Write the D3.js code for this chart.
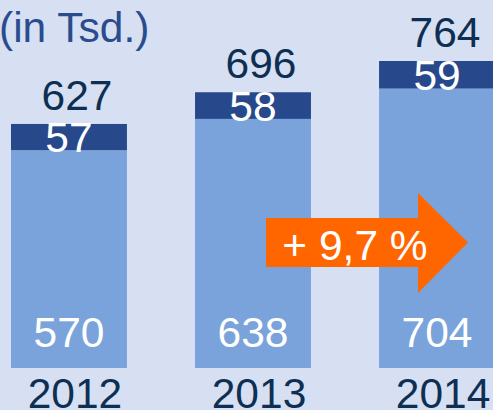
<!DOCTYPE html>
<html>
<head>
<meta charset="UTF-8" />
<title>Chart</title>
<script src="https://cdn.jsdelivr.net/npm/d3@7"></script>
<style>
body{margin:0;padding:0;background:#d6e0f2;overflow:hidden;}
text{font-family:"Liberation Sans",Arial,sans-serif;}
</style>
</head>
<body>
<div id="chart"></div>
<script type="text/javascript">
var w=493,h=410;

var years=['2012','2013','2014'];
var baseValues=[570,638,704];
var topValues=[57,58,59];
var totals=[627,696,764];
var unitLabel='(in Tsd.)';
var growthLabel='+ 9,7 %';

var fs=42.5;

var svg=d3.select('#chart')
          .append('svg')
          .attr('width',w)
          .attr('height',h);

svg.append('rect')
   .attr('width',w)
   .attr('height',h)
   .attr('fill','#d6e0f2');

// bars start at 11 and repeat every 184px, last one runs off the edge
var x=d3.scaleBand()
        .domain(years)
        .range([11,495])
        .paddingInner(0.37)
        .paddingOuter(0);

// the original axis does not start at zero
var y=d3.scaleLinear()
        .domain([96,764])
        .range([368,61]);

var g=svg.selectAll('g.bar')
         .data(years)
         .enter()
         .append('g')
         .attr('class','bar');

g.append('rect')
 .attr('x',function(d){return x(d);})
 .attr('width',x.bandwidth())
 .attr('y',function(d,i){return y(baseValues[i]);})
 .attr('height',function(d,i){return y(96)-y(baseValues[i]);})
 .attr('fill','#7ba3db');

g.append('rect')
 .attr('x',function(d){return x(d);})
 .attr('width',x.bandwidth())
 .attr('y',function(d,i){return y(totals[i]);})
 .attr('height',function(d,i){return y(baseValues[i])-y(totals[i]);})
 .attr('fill','#27488b');

// white value in the lower part
g.append('text')
 .attr('x',function(d){return x(d)+x.bandwidth()/2;})
 .attr('y',function(d){return y(96)-21;})
 .attr('text-anchor','middle')
 .attr('font-size',fs)
 .attr('fill','#ffffff')
 .text(function(d,i){return baseValues[i];});

// white value in the dark segment
g.append('text')
 .attr('x',function(d){return x(d)+x.bandwidth()/2;})
 .attr('y',function(d,i){return (y(totals[i])+y(baseValues[i]))/2+15;})
 .attr('text-anchor','middle')
 .attr('font-size',fs)
 .attr('fill','#ffffff')
 .text(function(d,i){return topValues[i];});

// totals above the bars
g.append('text')
 .attr('x',function(d){return x(d)+x.bandwidth()/2+8;})
 .attr('y',function(d,i){return y(totals[i])-14;})
 .attr('text-anchor','middle')
 .attr('font-size',fs)
 .attr('fill','#0e2f52')
 .text(function(d,i){return totals[i];});

// years
g.append('text')
 .attr('x',function(d){return x(d)+x.bandwidth()/2+6;})
 .attr('y',408)
 .attr('text-anchor','middle')
 .attr('font-size',fs)
 .attr('fill','#0e2f52')
 .text(function(d){return d;});

svg.append('text')
   .attr('x',-1)
   .attr('y',42)
   .attr('font-size',fs)
   .attr('fill','#2a4b8e')
   .text(unitLabel);

// orange growth arrow
var arrow=svg.append('g');
arrow.append('path')
     .attr('d','M266,218 L418,218 L418,193 L468,242.5 L418,293 L418,267 L266,267 Z')
     .attr('fill','#ff6600');
arrow.append('text')
     .attr('x',355)
     .attr('y',260)
     .attr('text-anchor','middle')
     .attr('font-size',fs)
     .attr('fill','#ffffff')
     .text(growthLabel);
</script>
</body>
</html>
